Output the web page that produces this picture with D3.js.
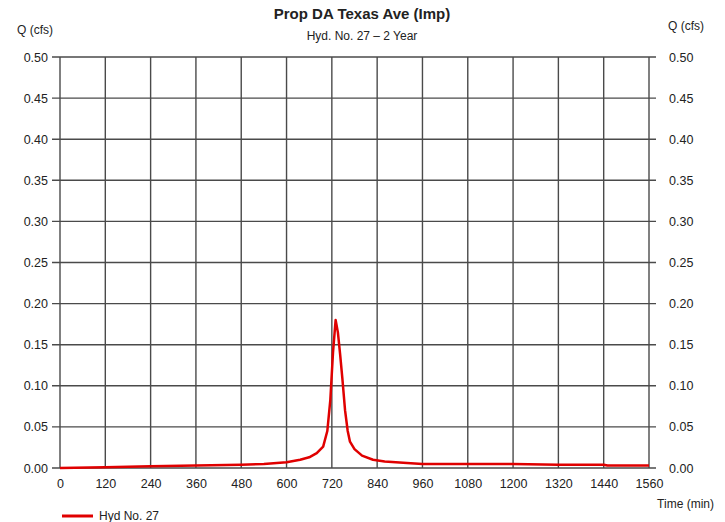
<!DOCTYPE html>
<html>
<head>
<meta charset="utf-8">
<script src="https://cdn.jsdelivr.net/npm/d3@7"></script>
<style>
  body { margin: 0; background: #fff; }
  text { font-family: "Liberation Sans", Arial, sans-serif; fill: #222; }
</style>
</head>
<body>
<svg id="chart" width="725" height="522"></svg>
<script>
// hydrograph values
const timeMin = [0, 120, 240, 360, 480, 540, 600, 636, 660, 680, 697, 708, 716, 723, 730, 736, 742, 748, 755, 762, 768, 780, 800, 829, 860, 919, 960, 1080, 1200, 1320, 1440, 1450, 1560];
const flowCfs = [0.000, 0.001, 0.002, 0.003, 0.004, 0.005, 0.007, 0.010, 0.013, 0.018, 0.026, 0.045, 0.083, 0.140, 0.180, 0.165, 0.138, 0.108, 0.070, 0.045, 0.032, 0.023, 0.015, 0.010, 0.008, 0.006, 0.005, 0.005, 0.005, 0.004, 0.004, 0.003, 0.003];
const xTicks = [0, 120, 240, 360, 480, 600, 720, 840, 960, 1080, 1200, 1320, 1440, 1560];
const yTicks = [0, 0.05, 0.10, 0.15, 0.20, 0.25, 0.30, 0.35, 0.40, 0.45, 0.50];

const svg = d3.select('#chart');
const plotL = 60, plotR = 649, plotT = 57, plotB = 468;

const x = d3.scaleLinear().domain([0, 1560]).range([plotL, plotR]);
const y = d3.scaleLinear().domain([0, 0.5]).range([plotB, plotT]);

// grid
svg.append('g')
  .selectAll('line')
  .data(xTicks)
  .enter()
  .append('line')
  .attr('x1', d => x(d)).attr('x2', d => x(d))
  .attr('y1', plotT).attr('y2', plotB)
  .attr('stroke', '#4a4a4a').attr('stroke-width', 1.4);

svg.append('g')
  .selectAll('line')
  .data(yTicks)
  .enter()
  .append('line')
  .attr('x1', plotL - 8).attr('x2', plotR + 7)
  .attr('y1', d => y(d)).attr('y2', d => y(d))
  .attr('stroke', '#4a4a4a').attr('stroke-width', 1.4);

// axes labels
const leftAxis = d3.axisLeft(y).tickValues(yTicks).tickFormat(d3.format('.2f')).tickSize(0).tickPadding(12);
const rightAxis = d3.axisRight(y).tickValues(yTicks).tickFormat(d3.format('.2f')).tickSize(0).tickPadding(20);
const bottomAxis = d3.axisBottom(x).tickValues(xTicks).tickFormat(d3.format('d')).tickSize(0).tickPadding(11);

[
  svg.append('g').attr('transform', `translate(${plotL},0)`).call(leftAxis),
  svg.append('g').attr('transform', `translate(${plotR},0)`).call(rightAxis),
  svg.append('g').attr('transform', `translate(0,${plotB})`).call(bottomAxis)
].forEach(g => {
  g.select('.domain').remove();
  g.selectAll('text').attr('font-size', 12.5).attr('fill', '#222')
    .attr('font-family', '"Liberation Sans", Arial, sans-serif');
});

// hydrograph line
const line = d3.line().x((d, i) => x(timeMin[i])).y(d => y(d));
svg.append('path')
  .datum(flowCfs)
  .attr('d', line)
  .attr('fill', 'none')
  .attr('stroke', '#e00000')
  .attr('stroke-width', 2.5)
  .attr('stroke-linejoin', 'round');

// titles
svg.append('text').attr('x', 362).attr('y', 19).attr('text-anchor', 'middle')
  .attr('font-size', 15).attr('font-weight', 'bold').text('Prop DA Texas Ave (Imp)');
svg.append('text').attr('x', 362).attr('y', 40).attr('text-anchor', 'middle')
  .attr('font-size', 12).text('Hyd. No. 27 \u2013 2 Year');
svg.append('text').attr('x', 17).attr('y', 34).attr('font-size', 12).text('Q (cfs)');
svg.append('text').attr('x', 668).attr('y', 30).attr('font-size', 12).text('Q (cfs)');
svg.append('text').attr('x', 714).attr('y', 508).attr('text-anchor', 'end')
  .attr('font-size', 12).text('Time (min)');

// legend
svg.append('line').attr('x1', 62).attr('x2', 93).attr('y1', 516).attr('y2', 516)
  .attr('stroke', '#e00000').attr('stroke-width', 3);
svg.append('text').attr('x', 99).attr('y', 520).attr('font-size', 12).text('Hyd No. 27');
</script>
</body>
</html>
